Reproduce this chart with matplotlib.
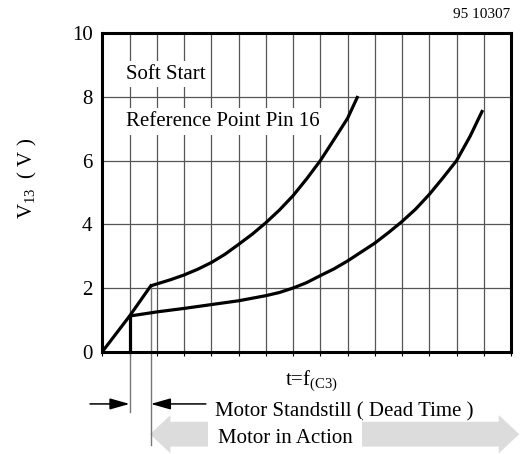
import matplotlib
matplotlib.use("Agg")
import matplotlib.pyplot as plt
from matplotlib.patches import Polygon

plt.rcParams['font.family'] = ['Liberation Serif', 'DejaVu Serif']
plt.rcParams['mathtext.fontset'] = 'custom'
plt.rcParams['mathtext.rm'] = 'Liberation Serif'
plt.rcParams['mathtext.it'] = 'Liberation Serif:italic'

# soft start ramp up to the kink
ramp_x = [0, 1, 1.78]
ramp_y = [0, 1.12, 2.07]

# upper curve (from the kink)
upper_x = [1.78, 2.5, 3, 3.5, 4, 4.5, 5, 5.5, 6, 6.5, 7, 7.5, 8, 8.5, 9, 9.38]
upper_y = [2.07, 2.26, 2.41, 2.59, 2.80, 3.06, 3.37, 3.69, 4.05, 4.45, 4.9,
           5.43, 6.0, 6.66, 7.33, 8.03]

# lower curve (from dead time end)
lower_x = [1, 2, 3, 4, 5, 6, 6.5, 7, 7.5, 8, 8.5, 9, 9.5, 10, 10.5, 11, 11.5,
           12, 12.5, 13, 13.5, 13.96]
lower_y = [1.12, 1.25, 1.36, 1.48, 1.6, 1.76, 1.86, 2.0, 2.17, 2.39, 2.6, 2.85,
           3.13, 3.41, 3.74, 4.09, 4.48, 4.94, 5.46, 6.0, 6.77, 7.59]

dead_x = 1
action_x = 1.78

yticks = [0, 2, 4, 6, 8, 10]

fig = plt.figure(figsize=(5.22, 4.54), dpi=100)
ax = fig.add_axes([0.196, 0.2253, 0.783, 0.7013])
ax.set_xlim(0, 15)
ax.set_ylim(0, 10)

gc = '#555555'
for gx in range(1, 15):
    ax.axvline(gx, color=gc, lw=0.9, zorder=1)
for gy in yticks[1:-1]:
    ax.axhline(gy, color=gc, lw=0.9, zorder=1)

lw = 2.3
ax.plot(ramp_x, ramp_y, color='k', lw=lw, zorder=5, solid_joinstyle='miter')
ax.plot(upper_x, upper_y, color='k', lw=lw, zorder=5, solid_capstyle='butt')
ax.plot(lower_x, lower_y, color='k', lw=lw, zorder=5, solid_capstyle='butt')
ax.plot([dead_x, dead_x], [0, ramp_y[1]], color='k', lw=lw, zorder=5)

# marker lines below the axis
ax.plot([dead_x, dead_x], [0, -1.89], color='#777777', lw=1.0, clip_on=False)
ax.plot([action_x, action_x], [ramp_y[2], -2.93], color='#777777', lw=1.0, clip_on=False, zorder=2)

ax.set_yticks(yticks)
ax.set_yticklabels([str(v) for v in yticks], fontsize=15)
ax.set_xticks(range(0, 16))
ax.set_xticklabels([])
ax.tick_params(axis='y', length=0, pad=7)
ax.tick_params(axis='x', length=3, width=0.8, direction='out')
for s in ax.spines.values():
    s.set_linewidth(2.2)
    s.set_zorder(6)

box = dict(facecolor='white', edgecolor='none', pad=2.5)
ax.text(0.87, 8.57, 'Soft Start', fontsize=15, va='baseline', bbox=box, zorder=3)
ax.text(0.87, 7.09, 'Reference Point Pin 16', fontsize=15, va='baseline', bbox=box, zorder=3)

fig.text(510 / 522, 1 - 14 / 454, '95 10307', fontsize=11, ha='right', va='center')
fig.text(27 / 522, 1 - 178 / 454, r'V$_{\mathrm{13}}$  ( V )', fontsize=15,
         rotation=90, ha='center', va='center')

ax.text(6.69, -1.05, r't=f$_{\mathrm{(C3)}}$', fontsize=15, va='baseline', clip_on=False)

# dead time arrows
aprops = dict(arrowstyle='-|>,head_length=0.6,head_width=0.17', color='k', lw=1.1,
              shrinkA=0, shrinkB=0, mutation_scale=20)
ax.annotate('', xy=(dead_x, -1.64), xytext=(-0.45, -1.64), arrowprops=aprops,
            annotation_clip=False)
ax.annotate('', xy=(action_x, -1.64), xytext=(3.8, -1.64), arrowprops=aprops,
            annotation_clip=False)
ax.text(4.13, -2.02, 'Motor Standstill ( Dead Time )', fontsize=15, va='baseline',
        clip_on=False)

# grey double arrow
yc, hb, hh, hl = -2.59, 0.39, 0.6, 0.75
x0, x1 = 1.75, 15.3
pts = [(x0, yc), (x0 + hl, yc + hh), (x0 + hl, yc + hb), (x1 - hl, yc + hb),
       (x1 - hl, yc + hh), (x1, yc), (x1 - hl, yc - hh), (x1 - hl, yc - hb),
       (x0 + hl, yc - hb), (x0 + hl, yc - hh)]
ax.add_patch(Polygon(pts, closed=True, facecolor='#dcdcdc', edgecolor='none',
                     clip_on=False, zorder=1))
ax.text(4.24, -2.86, 'Motor in Action', fontsize=15, va='baseline', clip_on=False,
        bbox=dict(facecolor='white', edgecolor='none', pad=7), zorder=3)

fig.savefig('out.png', dpi=100)
